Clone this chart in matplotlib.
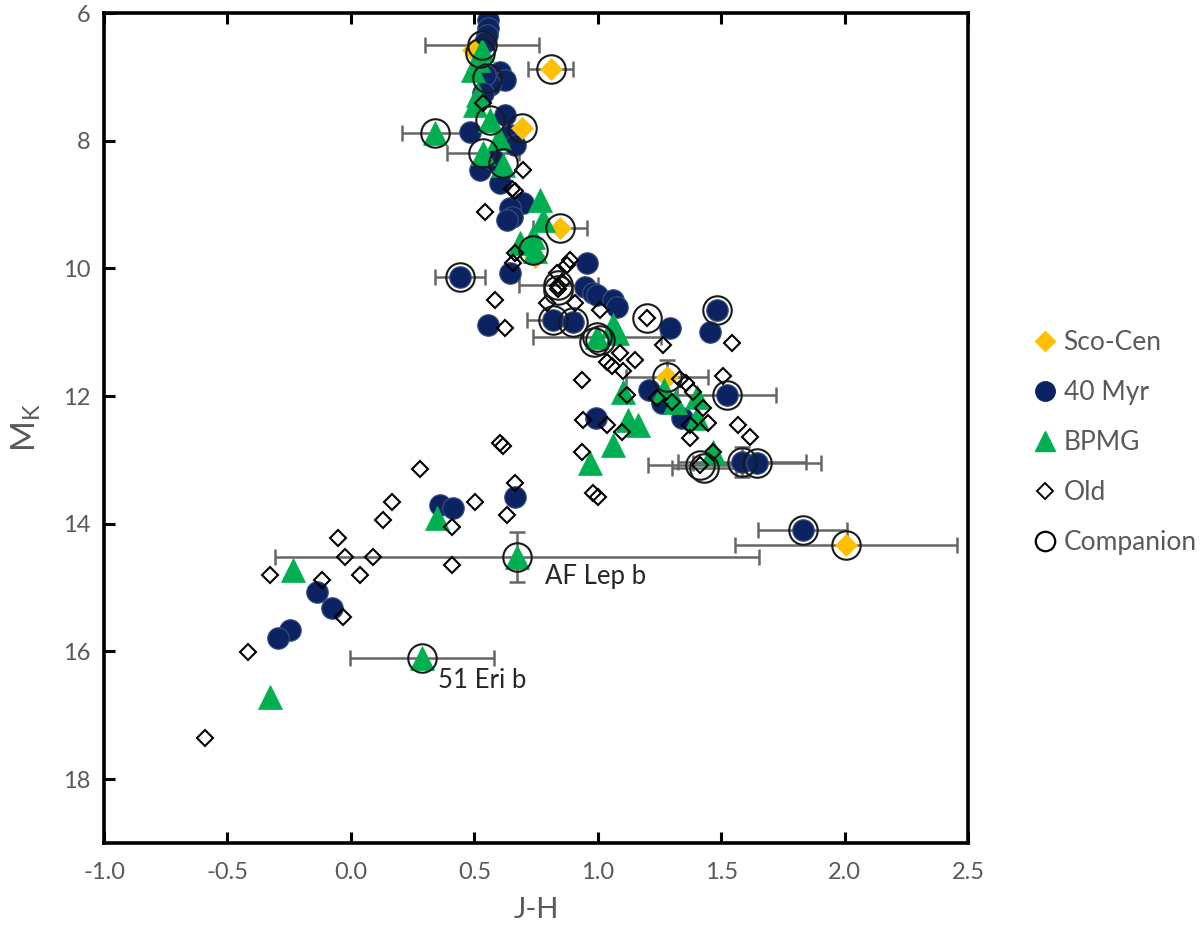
import matplotlib
matplotlib.use("Agg")
import matplotlib.pyplot as plt
from matplotlib.lines import Line2D
import numpy as np

plt.rcParams['font.family'] = ['Lato', 'DejaVu Sans']
plt.rcParams['mathtext.fontset'] = 'custom'
plt.rcParams['mathtext.rm'] = 'Lato'
plt.rcParams['mathtext.it'] = 'Lato'

# ---------------- data ----------------
sco_x = [0.494, 0.809, 0.692, 0.847, 0.745, 1.280, 2.005]
sco_y = [6.58, 6.88, 7.80, 9.37, 9.82, 11.70, 14.33]

myr_x = [0.555, 0.555, 0.551, 0.543, 0.604, 0.624, 0.563, 0.543, 0.535,
         0.624, 0.644, 0.665, 0.482, 0.523, 0.604, 0.580,
         0.697, 0.644, 0.652, 0.632, 0.644, 0.442, 0.555,
         0.956, 0.948, 0.981, 0.997, 1.061, 1.078, 0.819, 0.900,
         1.292, 1.483, 1.454, 1.207, 1.260, 1.341, 1.523, 0.993,
         1.584, 1.645, 1.831, 0.665, 0.361, 0.414,
         -0.137, -0.077, -0.247, -0.295]
myr_y = [6.11, 6.23, 6.34, 6.45, 6.92, 7.05, 7.13, 6.97, 7.25,
         7.60, 7.91, 8.07, 7.86, 8.46, 8.66, 8.30,
         8.98, 9.05, 9.19, 9.24, 10.07, 10.13, 10.89,
         9.92, 10.29, 10.39, 10.42, 10.50, 10.60, 10.81, 10.84,
         10.93, 10.65, 11.00, 11.90, 12.11, 12.34, 11.98, 12.34,
         13.03, 13.05, 14.10, 13.58, 13.71, 13.75,
         15.07, 15.32, 15.66, 15.79]

bpmg_x = [0.515, 0.531, 0.494, 0.515, 0.503, 0.563, 0.341, 0.535, 0.616, 0.600,
          0.766, 0.778, 0.738, 0.685, 0.745,
          0.997, 1.061, 1.078,
          1.102, 1.268, 1.313, 1.402, 1.402, 1.122, 1.163, 1.061, 0.968, 1.467,
          0.349, 0.673, -0.234, -0.328, 0.288]
bpmg_y = [6.74, 6.58, 6.89, 7.28, 7.44, 7.68, 7.88, 8.19, 8.38, 7.95,
          8.93, 9.24, 9.51, 9.60, 9.72,
          11.07, 10.89, 11.01,
          11.94, 11.90, 12.09, 12.01, 12.34, 12.37, 12.45, 12.77, 13.05, 12.88,
          13.91, 14.52, 14.72, 16.71, 16.10]

old_x = [0.535, 0.697, 0.652, 0.665, 0.543, 0.665, 0.657,
         0.835, 0.855, 0.887, 0.875, 0.840, 0.840,
         0.794, 0.908, 1.009, 0.624, 0.584,
         1.199, 1.264, 1.543, 1.090, 1.151, 1.037, 1.058, 1.102,
         0.936, 1.333, 1.357, 1.507,
         0.940, 1.037, 1.098, 1.118, 1.240, 1.300, 1.386,
         1.426, 1.446, 1.373, 1.373, 1.568, 1.616, 1.467,
         0.936, 0.981, 1.001, 1.414,
         0.604, 0.616, 0.665, 0.632, 0.503, 0.409, 0.409,
         0.280, 0.166, 0.130, -0.052, -0.024, 0.090, 0.037, -0.117, -0.032,
         -0.328, -0.417, -0.591]
old_y = [7.41, 8.46, 8.76, 8.79, 9.12, 9.76, 9.92,
         10.07, 10.21, 9.87, 9.95, 10.28, 10.32,
         10.54, 10.54, 10.65, 10.93, 10.49,
         10.78, 11.20, 11.17, 11.33, 11.43, 11.47, 11.53, 11.61,
         11.75, 11.73, 11.79, 11.69,
         12.37, 12.45, 12.56, 11.98, 12.03, 12.09, 11.94,
         12.19, 12.42, 12.45, 12.66, 12.45, 12.64, 12.88,
         12.88, 13.52, 13.58, 13.08,
         12.73, 12.78, 13.36, 13.86, 13.66, 14.05, 14.65,
         13.14, 13.66, 13.94, 14.22, 14.52, 14.52, 14.80, 14.88, 15.46,
         14.80, 16.01, 17.35]

comp_x = [0.530, 0.523, 0.809, 0.551, 0.563, 0.692, 0.341, 0.535, 0.616,
          0.847, 0.738, 0.442, 0.839, 0.839, 0.819, 0.900, 0.997, 1.010, 0.985,
          1.199, 1.483, 1.280, 1.523, 1.414, 1.430, 1.584, 1.645, 1.831, 2.005,
          0.673, 0.288]
comp_y = [6.50, 6.63, 6.88, 7.02, 7.68, 7.80, 7.88, 8.19, 8.35,
          9.37, 9.71, 10.13, 10.26, 10.34, 10.81, 10.84, 11.07, 11.12, 11.15,
          10.78, 10.65, 11.70, 11.98, 13.08, 13.12, 13.03, 13.05, 14.10, 14.33,
          14.52, 16.10]
comp_xerr = [0.23, 0, 0.09, 0, 0, 0, 0.135, 0.146, 0,
             0.11, 0, 0.10, 0.16, 0, 0.105, 0, 0.26, 0, 0,
             0, 0, 0.166, 0.20, 0.21, 0.13, 0.26, 0.26, 0.18, 0.45,
             0.98, 0.29]
comp_yerr = [0, 0, 0, 0, 0, 0, 0, 0, 0,
             0, 0, 0, 0, 0, 0, 0, 0, 0, 0,
             0, 0, 0.27, 0, 0, 0, 0.24, 0, 0, 0,
             0.39, 0]

labels_txt = ["AF Lep b", "51 Eri b"]
labels_x = [0.786, 0.353]
labels_y = [14.82, 16.46]

series_names = ["Sco-Cen", "40 Myr", "BPMG", "Old", "Companion"]

x_ticks = [-1.0, -0.5, 0.0, 0.5, 1.0, 1.5, 2.0, 2.5]
y_ticks = [6, 8, 10, 12, 14, 16, 18]

# ---------------- style ----------------
GOLD = '#FFC000'
NAVY = '#0B2361'
GREEN = '#00B050'
GREY = '#595959'
ERRC = '#666666'

fig = plt.figure(figsize=(12, 9.42), dpi=100)
ax = fig.add_axes([0.0867, 0.1051, 0.72, 0.881])

# error bars (drawn below markers)
cx = np.array(comp_x); cy = np.array(comp_y)
cxe = np.array(comp_xerr); cye = np.array(comp_yerr)
mx = cxe > 0
ax.errorbar(cx[mx], cy[mx], xerr=cxe[mx], fmt='none', ecolor=ERRC,
            elinewidth=1.8, capsize=6, capthick=1.8, zorder=1)
my = cye > 0
ax.errorbar(cx[my], cy[my], yerr=cye[my], fmt='none', ecolor=ERRC,
            elinewidth=1.8, capsize=6, capthick=1.8, zorder=1)

ax.plot(myr_x, myr_y, 'o', ms=15.5, mfc=NAVY, mec='#3a4f82', mew=0.8,
        ls='none', zorder=2)
ax.plot(sco_x, sco_y, 'D', ms=11, mfc=GOLD, mec=GOLD, mew=0.5,
        ls='none', zorder=3)
ax.plot(bpmg_x, bpmg_y, '^', ms=17.5, mfc=GREEN, mec=GREEN, mew=0.5,
        ls='none', zorder=4)
ax.plot(old_x, old_y, 'D', ms=8.5, mfc='none', mec='black', mew=1.5,
        ls='none', zorder=5)
ax.plot(comp_x, comp_y, 'o', ms=20.5, mfc='none', mec='#1a1a1a', mew=1.5,
        ls='none', zorder=6)

for t, x, y in zip(labels_txt, labels_x, labels_y):
    ax.text(x, y, t, fontsize=18.5, color='#262626', va='center', ha='left',
            zorder=7)

ax.set_xlim(-1.0, 2.5)
ax.set_ylim(19, 6)
ax.set_xticks(x_ticks)
ax.set_xticklabels([f"{v:.1f}" for v in x_ticks])
ax.set_yticks(y_ticks)
ax.set_yticklabels([str(v) for v in y_ticks])
ax.tick_params(axis='both', direction='in', length=8, width=2.2,
               color='black', labelcolor=GREY, labelsize=17, pad=12)
ax.tick_params(axis='x', top=True, labeltop=False, pad=14)
ax.tick_params(axis='y', right=False, pad=10)
for s in ax.spines.values():
    s.set_linewidth(2.6)
    s.set_color('black')

ax.set_xlabel('J-H', fontsize=21, color=GREY, labelpad=10)
ax.set_ylabel(r'$\mathregular{M_K}$', fontsize=24, color=GREY, labelpad=14)

handles = [
    Line2D([], [], marker='D', ls='none', ms=10, mfc=GOLD, mec=GOLD),
    Line2D([], [], marker='o', ls='none', ms=14, mfc=NAVY, mec=NAVY),
    Line2D([], [], marker='^', ls='none', ms=15, mfc=GREEN, mec=GREEN),
    Line2D([], [], marker='D', ls='none', ms=8, mfc='none', mec='black', mew=1.4),
    Line2D([], [], marker='o', ls='none', ms=14, mfc='none', mec='black', mew=1.6),
]
fig.legend(handles, series_names, loc='center left',
           bbox_to_anchor=(0.850, 0.53), frameon=False, fontsize=19,
           labelcolor=GREY, handlelength=0.9, handletextpad=0.25,
           labelspacing=0.95, borderpad=0)

fig.savefig('out.png', dpi=100)
